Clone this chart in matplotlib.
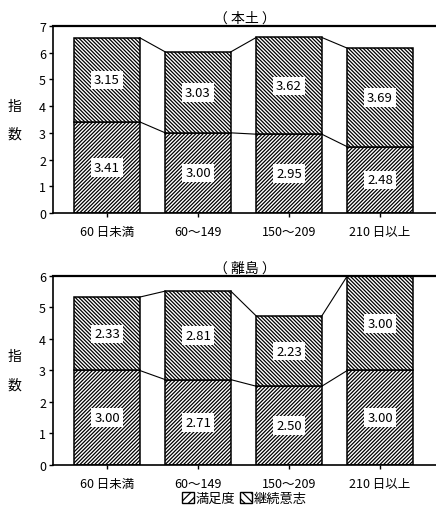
import matplotlib
matplotlib.use("Agg")
import matplotlib.pyplot as plt
from matplotlib.patches import Patch

plt.rcParams['font.family'] = ['Noto Sans CJK JP', 'DejaVu Sans']
plt.rcParams['hatch.linewidth'] = 0.9

categories = ["60 日未満", "60～149", "150～209", "210 日以上"]
titles = ["（ 本土 ）", "（ 離島 ）"]
satisfaction = [[3.41, 3.00, 2.95, 2.48], [3.00, 2.71, 2.50, 3.00]]
continuation = [[3.15, 3.03, 3.62, 3.69], [2.33, 2.81, 2.23, 3.00]]
ymax = [7, 6]
legend_labels = ["満足度", "継続意志"]

fig = plt.figure(figsize=(4.36, 5.10), dpi=100)
axes_rects = [[0.1216, 0.5804, 0.8784, 0.3667], [0.1216, 0.0863, 0.8784, 0.3706]]

w = 0.72
for k in range(2):
    ax = fig.add_axes(axes_rects[k])
    x = list(range(len(categories)))
    s = satisfaction[k]
    c = continuation[k]
    tops = [a + b for a, b in zip(s, c)]
    ax.bar(x, s, width=w, color='white', edgecolor='black', hatch='/' * 9, linewidth=1.1, zorder=2)
    ax.bar(x, c, bottom=s, width=w, color='white', edgecolor='black', hatch='\\' * 9, linewidth=1.1, zorder=2)
    for i in range(len(x) - 1):
        ax.plot([x[i] + w / 2, x[i + 1] - w / 2], [tops[i], tops[i + 1]], color='black', lw=0.8, zorder=1)
        ax.plot([x[i] + w / 2, x[i + 1] - w / 2], [s[i], s[i + 1]], color='black', lw=0.8, zorder=1)
    for i in x:
        ax.text(i, s[i] / 2, f"{s[i]:.2f}", ha='center', va='center', fontsize=9.5,
                bbox=dict(facecolor='white', edgecolor='none', pad=2), zorder=3)
        ax.text(i, s[i] + c[i] / 2, f"{c[i]:.2f}", ha='center', va='center', fontsize=9.5,
                bbox=dict(facecolor='white', edgecolor='none', pad=2), zorder=3)
    ax.set_xlim(-0.593, 3.615)
    ax.set_ylim(0, ymax[k])
    ax.set_yticks(range(ymax[k] + 1))
    ax.set_xticks(x)
    ax.set_xticklabels(categories, fontsize=9)
    ax.tick_params(axis='y', labelsize=9, length=3, width=1, pad=2)
    ax.tick_params(axis='x', length=3, width=1, pad=6)
    ax.spines['right'].set_visible(False)
    ax.spines['top'].set_linewidth(1.6)
    ax.spines['left'].set_linewidth(1.2)
    ax.spines['bottom'].set_linewidth(1.2)
    ax.set_title(titles[k], fontsize=10, pad=3)
    ax.set_ylabel("指\n\n数", rotation=0, fontsize=10, labelpad=18, va='center', linespacing=1.0)

handles = [Patch(facecolor='white', edgecolor='black', hatch='////', label=legend_labels[0]),
           Patch(facecolor='white', edgecolor='black', hatch='\\\\\\\\', label=legend_labels[1])]
fig.legend(handles=handles, loc='lower center', bbox_to_anchor=(0.56, -0.015), ncol=2, frameon=False,
           fontsize=9.5, handlelength=0.9, handleheight=0.9, handletextpad=0.1, columnspacing=0.4)

fig.savefig("out.png", dpi=100)
